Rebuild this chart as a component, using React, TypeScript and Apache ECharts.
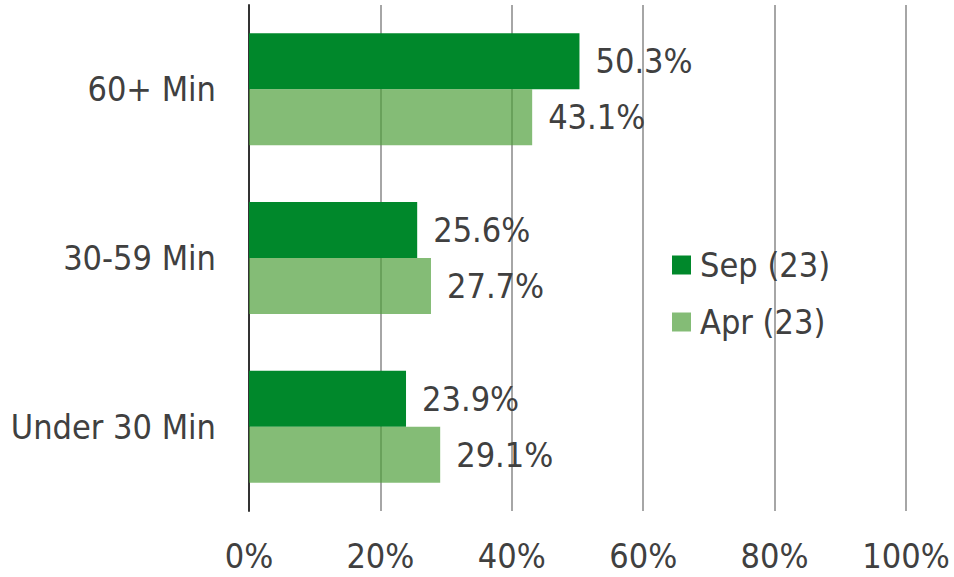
import React, { useEffect, useRef } from "react";
import * as echarts from "echarts";

const categories = ["Under 30 Min", "30-59 Min", "60+ Min"];
const sepName = "Sep (23)";
const aprName = "Apr (23)";
const sepValues = [23.9, 25.6, 50.3];
const aprValues = [29.1, 27.7, 43.1];
const xTicks = [0, 20, 40, 60, 80, 100];

const FONT = "'DejaVu Sans Condensed', 'DejaVu Sans', sans-serif";
const TEXT = "#404040";
const FS = 34;

export default function App() {
  const ref = useRef<HTMLDivElement>(null);
  useEffect(() => {
    if (!ref.current) return;
    const chart = echarts.init(ref.current, undefined, { renderer: "svg" });
    const labelCfg = {
      show: true,
      position: "right",
      distance: 16,
      color: TEXT,
      fontSize: FS,
      fontFamily: FONT,
      formatter: (p: any) => p.value.toFixed(1) + "%",
    };
    chart.setOption({
      animation: false,
      backgroundColor: "#ffffff",
      textStyle: { fontFamily: FONT },
      grid: { left: 249, right: 48, top: 5, bottom: 66, containLabel: false },
      legend: {
        data: [sepName, aprName],
        orient: "vertical",
        left: 667,
        top: 243,
        itemWidth: 19,
        itemHeight: 19,
        itemGap: 23,
        icon: "rect",
        textStyle: { color: TEXT, fontSize: FS, fontFamily: FONT, padding: [0, 0, 0, 4] },
      },
      xAxis: {
        type: "value",
        min: xTicks[0],
        max: xTicks[xTicks.length - 1],
        interval: 20,
        axisLine: { show: false },
        axisTick: { show: false },
        axisLabel: {
          color: TEXT,
          fontSize: FS,
          fontFamily: FONT,
          margin: 28,
          formatter: (v: number) => v + "%",
        },
        splitLine: { show: true, lineStyle: { color: "#A6A6A6", width: 2 } },
      },
      yAxis: {
        type: "category",
        data: categories,
        axisLine: { show: true, lineStyle: { color: "#333333", width: 2 } },
        axisTick: { show: false },
        axisLabel: { color: TEXT, fontSize: FS, fontFamily: FONT, margin: 33 },
      },
      series: [
        {
          name: sepName,
          type: "bar",
          data: sepValues,
          barWidth: 56,
          barGap: "0%",
          itemStyle: { color: "#00882B" },
          label: labelCfg,
        },
        {
          name: aprName,
          type: "bar",
          data: aprValues,
          barWidth: 56,
          barGap: "0%",
          itemStyle: { color: "rgba(80,160,60,0.7)" },
          label: labelCfg,
        },
      ],
    });
    return () => chart.dispose();
  }, []);
  return (
    <div
      ref={ref}
      style={{ position: "fixed", left: 0, top: 0, width: 954, height: 577 }}
    />
  );
}
